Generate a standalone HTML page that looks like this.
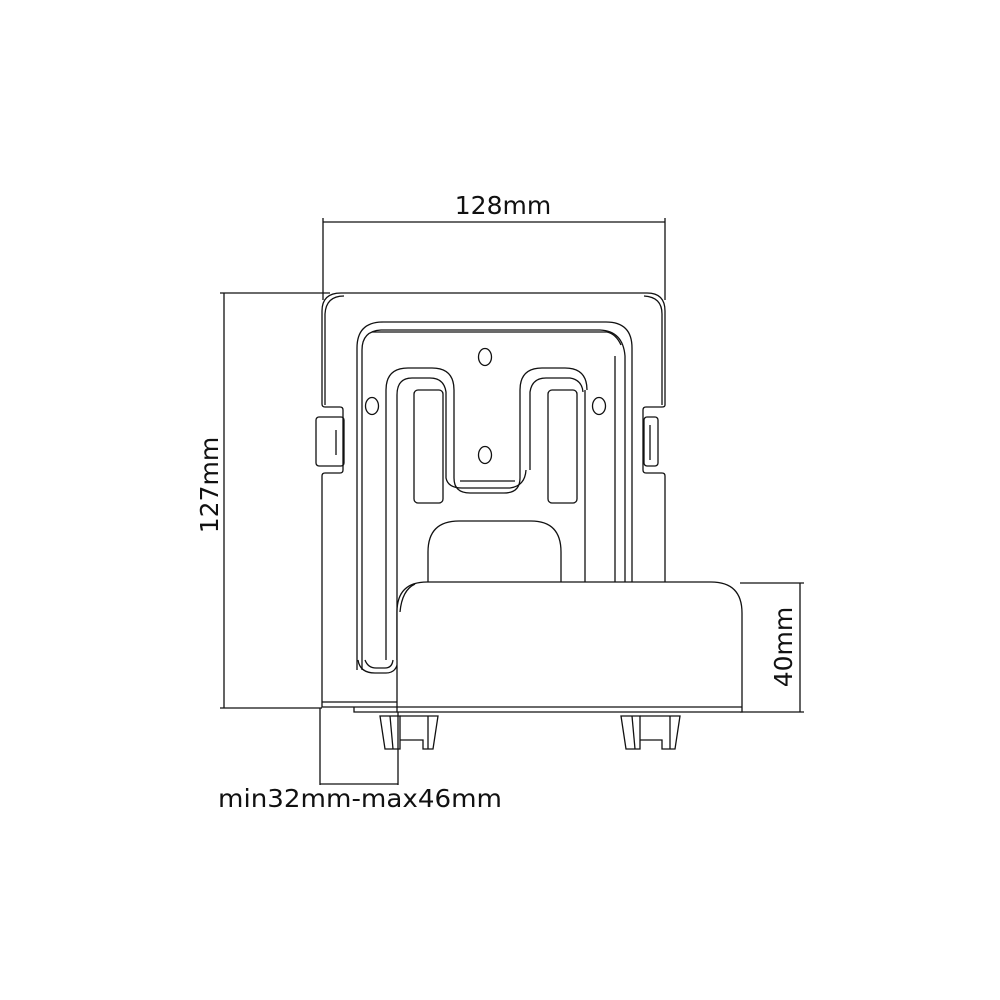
<!DOCTYPE html>
<html><head><style>
html,body{margin:0;padding:0;background:#fff;}
svg{display:block}
text{font-family:"DejaVu Sans","Liberation Sans",sans-serif;fill:#111}
</style></head><body>
<svg width="1000" height="1000" viewBox="0 0 1000 1000" xmlns="http://www.w3.org/2000/svg">
<g fill="none" stroke="#111" stroke-width="1.3">
<line x1="323" y1="218" x2="323" y2="300"/>
<line x1="665" y1="218" x2="665" y2="300"/>
<line x1="323" y1="222" x2="665" y2="222"/>
<line x1="220" y1="293" x2="330" y2="293"/>
<line x1="220" y1="708" x2="322" y2="708"/>
<line x1="224" y1="293" x2="224" y2="708"/>
<line x1="740" y1="583" x2="804" y2="583"/>
<line x1="740" y1="712" x2="804" y2="712"/>
<line x1="800" y1="583" x2="800" y2="712"/>
<line x1="320" y1="708" x2="320" y2="785"/>
<line x1="398" y1="712" x2="398" y2="785"/>
<line x1="320" y1="784" x2="398" y2="784"/>

<path d="M341 293 H647 Q665 293 665 311 V405 Q665 407 662 407 H646 Q643 407 643 410 V470 Q643 473 646 473 H662 Q665 473 665 476 V707 H322 V476 Q322 473 325 473 H340 Q343 473 343 470 V410 Q343 407 340 407 H325 Q322 407 322 404 V311 Q322 293 341 293 Z"/>
<path d="M344 296 Q326 296 325 314 V405"/>
<path d="M644 296 Q662 297 662 314 V405"/>
<rect x="316" y="417" width="28" height="49" rx="3"/>
<line x1="336" y1="430" x2="336" y2="455"/>
<rect x="644" y="417" width="14" height="49" rx="3"/>
<line x1="650" y1="425" x2="650" y2="460"/>

<path d="M357 670 V348 Q357 322 383 322 H606 Q632 322 632 348 V583"/>
<path d="M362 670 V350 Q362 331 381 330 H600 Q623 331 625 356 V583"/>
<path d="M372 332 H607 Q616 334 621 345"/>
<line x1="615" y1="356" x2="615" y2="583"/>
<line x1="585" y1="390" x2="585" y2="583"/>
<path d="M358 660 Q360 673 375 673 H386 Q397 673 398 660"/>
<path d="M365 660 Q368 668 376 668 H385 Q392 668 393 660"/>

<path d="M386 660 V390 Q386 368 408 368 H432 Q454 368 454 390 V478 Q454 493 470 493 H504 Q520 493 520 478 V390 Q520 368 542 368 H565 Q587 368 587 390"/>
<path d="M397 660 V395 Q397 378 412 378 H430 Q444 378 446 392 V478 Q448 488 462 488 H510 Q525 486 526 470"/>
<path d="M530 470 V392 Q532 378 546 378 H570 Q582 380 583 392"/>
<path d="M460 481 H515"/>
<rect x="414" y="390" width="29" height="113" rx="4"/>
<rect x="548" y="390" width="29" height="113" rx="4"/>
<ellipse cx="485" cy="357" rx="6.5" ry="8.5"/>
<ellipse cx="485" cy="455" rx="6.5" ry="8.5"/>
<ellipse cx="372" cy="406" rx="6.5" ry="8.5"/>
<ellipse cx="599" cy="406" rx="6.5" ry="8.5"/>
<path d="M428 583 V552 Q428 521 459 521 H531 Q561 521 561 552 V583"/>

<path d="M397 712 V612 Q397 582 427 582 H711 Q742 582 742 613 V712 Z" fill="#fff"/>
<line x1="397" y1="707" x2="742" y2="707"/>
<path d="M400 612 Q402 590 415 584"/>
<line x1="322" y1="702" x2="397" y2="702"/>
<path d="M354 707 V712 H397"/>

<path d="M380 716 L385 749 H400 V716 Z"/>
<path d="M400 716 H438 L433 749 H423 V740 H400"/>
<line x1="428" y1="716" x2="428" y2="749"/>
<line x1="390" y1="716" x2="393" y2="749"/>
<path d="M621 716 L626 749 H640 V716 Z"/>
<path d="M640 716 H680 L675 749 H662 V740 H640"/>
<line x1="670" y1="716" x2="670" y2="749"/>
<line x1="632" y1="716" x2="635" y2="749"/>
</g>
<text x="503" y="214" font-size="25" text-anchor="middle">128mm</text>
<text transform="translate(218,485) rotate(-90)" font-size="25" text-anchor="middle">127mm</text>
<text transform="translate(792,647) rotate(-90)" font-size="25" text-anchor="middle">40mm</text>
<text x="218" y="807" font-size="25" textLength="284" lengthAdjust="spacingAndGlyphs">min32mm-max46mm</text>
</svg>
</body></html>
